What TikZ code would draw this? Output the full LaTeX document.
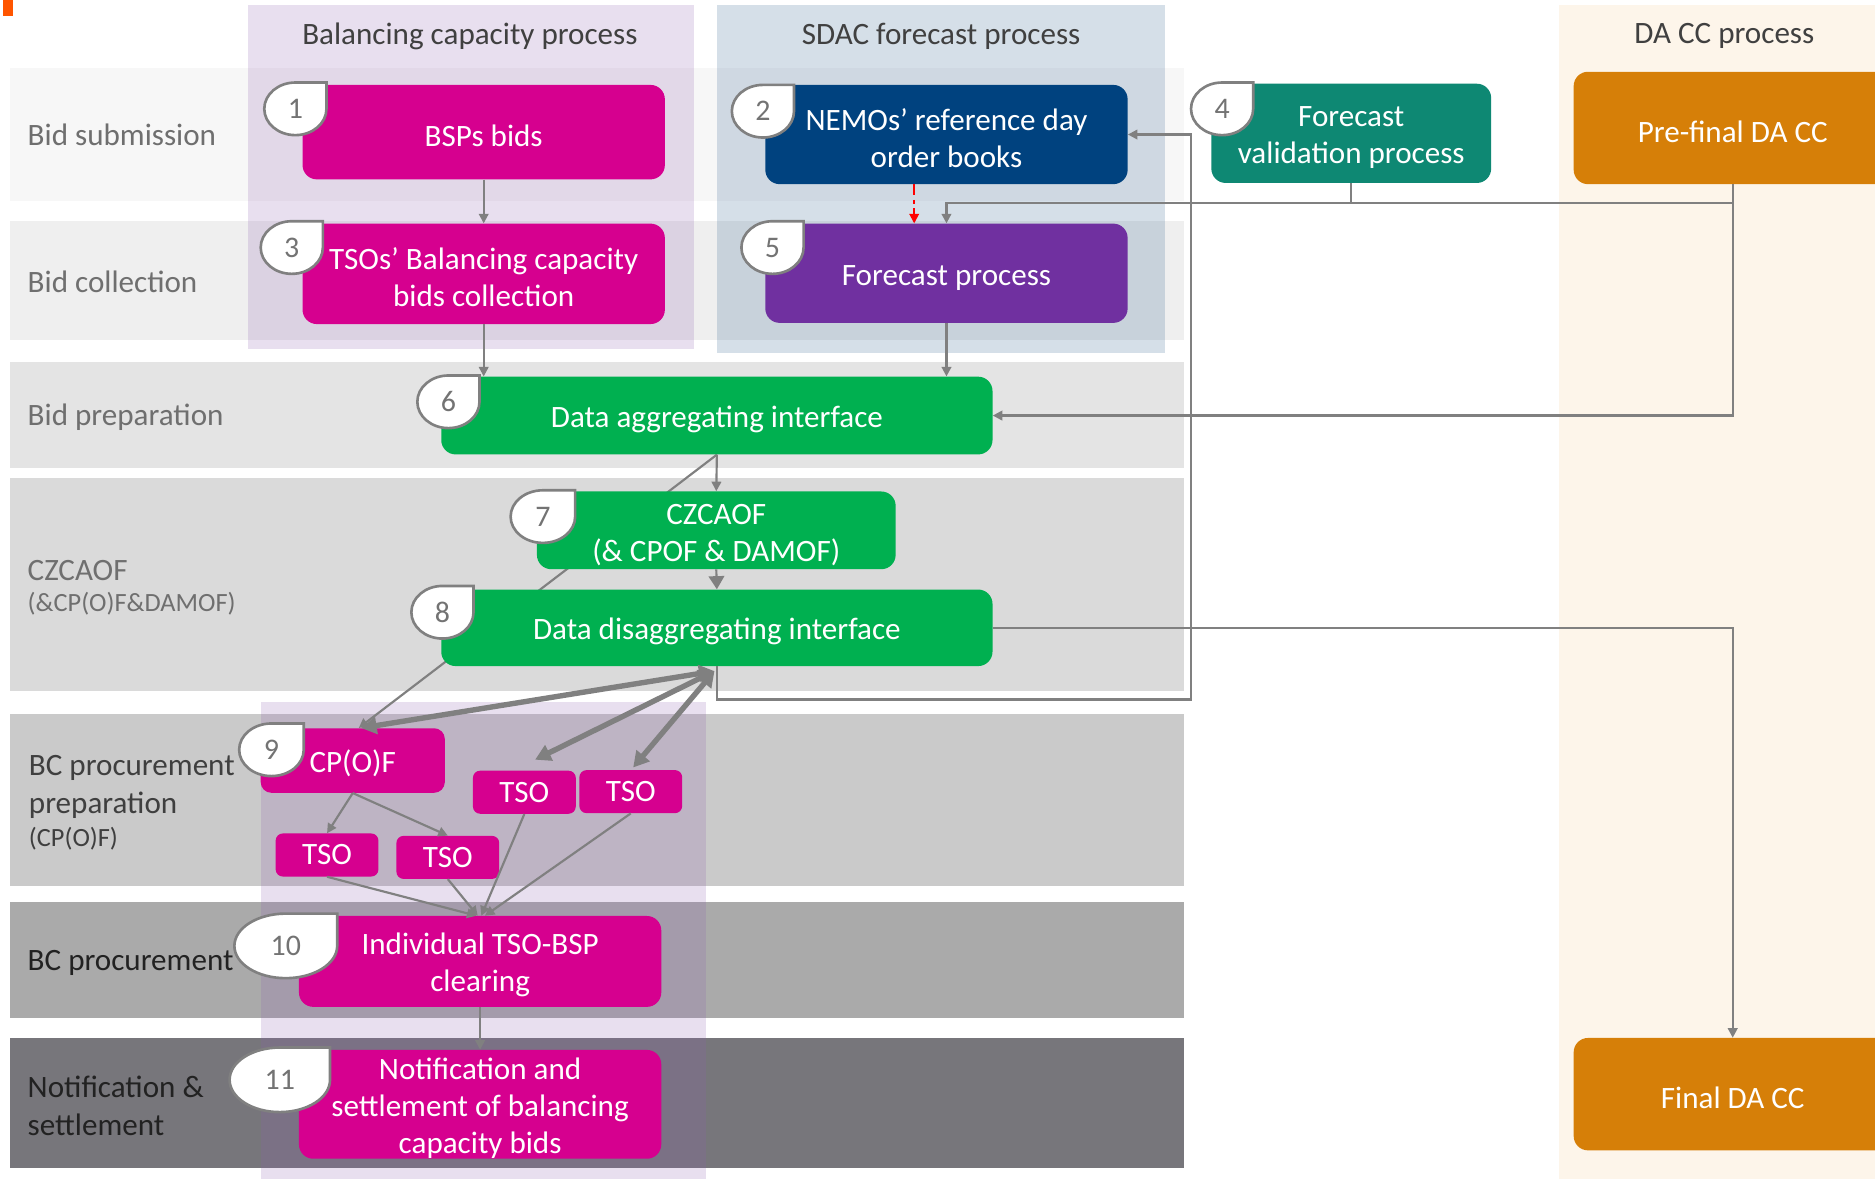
\documentclass[tikz,border=0pt]{standalone}
\usepackage{fontspec}
\setmainfont{Carlito}
\usetikzlibrary{arrows.meta,calc}
\definecolor{mag}{HTML}{D6008F}
\definecolor{nblue}{HTML}{00427F}
\definecolor{purp}{HTML}{7030A0}
\definecolor{tealc}{HTML}{0E8873}
\definecolor{grn}{HTML}{00B050}
\definecolor{orng}{HTML}{D67F08}
\definecolor{conngray}{HTML}{808080}
\definecolor{hdr}{HTML}{404040}
\definecolor{lblA}{HTML}{6F6F6F}
\definecolor{lblB}{HTML}{3F3F3F}
\definecolor{lblC}{HTML}{222222}
\definecolor{colP}{HTML}{8F5FB0}
\definecolor{colB}{HTML}{2F5F8F}
\definecolor{colO}{HTML}{FDF5EA}
\definecolor{bandA}{HTML}{F7F7F7}
\definecolor{bandB}{HTML}{EFEFEF}
\definecolor{bandC}{HTML}{E4E4E4}
\definecolor{bandD}{HTML}{DADADA}
\definecolor{bandE}{HTML}{CACACA}
\definecolor{bandF}{HTML}{AAAAAA}
\definecolor{bandG}{HTML}{77767B}
\definecolor{badgenum}{HTML}{737373}
\definecolor{topmark}{HTML}{FF5500}
\pgfdeclarelayer{back}
\pgfdeclarelayer{mid}
\pgfsetlayers{back,mid,main}
\tikzset{
  boxbase/.style={rounded corners=12pt, inner sep=0pt, align=center, text=white,
    font=\fontsize{26}{31}\selectfont, execute at begin node={\rule{0pt}{24pt}}},
  twolines/.style={execute at begin node={\rule{0pt}{55pt}}},
  threelines/.style={execute at begin node={\rule{0pt}{86pt}}},
  tsobox/.style={fill=mag, rounded corners=6pt, inner sep=0pt, text=white,
    minimum width=86pt, minimum height=36pt, font=\fontsize{26}{31}\selectfont},
  hdrtext/.style={text=hdr, font=\fontsize{26}{31}\selectfont},
  lanetext/.style={anchor=west, inner sep=0pt, align=left, font=\fontsize{26}{32}\selectfont},
  lanesmall/.style={anchor=west, inner sep=0pt, font=\fontsize{22}{26}\selectfont},
  badgeline/.style={draw=conngray, line width=2.2pt, fill=white},
  badgetext/.style={text=badgenum, inner sep=0pt, font=\fontsize{25}{28}\selectfont},
  conn/.style={draw=conngray, line width=1.8pt},
  arr/.style={conn, -{Triangle[width=8pt,length=8pt]}},
  bigarr/.style={conn, -{Triangle[width=13pt,length=11pt]}},
  thickarr/.style={draw=conngray, line width=4.5pt,
    {Triangle[width=14pt,length=13pt]}-{Triangle[width=14pt,length=13pt]}},
}
\newcommand{\badge}[6]{%
  \draw[badgeline] ({#2+#4},#3) arc[start angle=0,end angle=270,x radius=#4,y radius=#5]
     -- ({#2+#4},{#3-#5}) -- cycle;
  \node[badgetext] (#1) at (#2,#3) {#6};
}
\begin{document}
\begin{tikzpicture}[x=1pt,y=-1pt]
\clip (0,0) rectangle (1568,986);

% ---------- background: lanes and columns
\begin{pgfonlayer}{back}
\fill[white] (0,0) rectangle (1568,986);
\fill[topmark] (2.5,0) rectangle (11,13);
\fill[bandA] (8,57) rectangle (990,168);
\fill[bandB] (8,185) rectangle (990,284);
\fill[bandC] (8,303) rectangle (990,391);
\fill[bandD] (8,400) rectangle (990,578);
\fill[bandE] (8,597) rectangle (990,741);
\fill[bandF] (8,754) rectangle (990,851);
\fill[bandG] (8,868) rectangle (990,977);
\fill[colP, opacity=0.2] (207,4) rectangle (580,292);
\fill[colP, opacity=0.2] (218,587) rectangle (590,986);
\fill[colB, opacity=0.2] (600,4) rectangle (974,295);
\fill[colO] (1304,4) rectangle (1568,986);
\end{pgfonlayer}

% ---------- column headers
\node[hdrtext] (h1) at (393,30) {Balancing capacity process};
\node[hdrtext] (h2) at (787,30) {SDAC forecast process};
\node[hdrtext] (h3) at (1442,30) {DA CC process};

% ---------- lane labels
\node[lanetext, text=lblA] (l1) at (23,113) {Bid submission};
\node[lanetext, text=lblA] (l2) at (23,236) {Bid collection};
\node[lanetext, text=lblA] (l3) at (23,349) {Bid preparation};
\node[lanetext, text=lblA] (l4) at (23,477) {CZCAOF};
\node[lanesmall, text=lblA] (l4b) at (23,505) {(\&CP(O)F\&DAMOF)};
\node[lanetext, text=lblB] (l5) at (24,658) {BC procurement\\preparation};
\node[lanesmall, text=lblB] (l5b) at (24,701) {(CP(O)F)};
\node[lanetext, text=lblC] (l6) at (23,805) {BC procurement};
\node[lanetext, text=lblC] (l7) at (23,925) {Notification \&\\settlement};

% ---------- process boxes
\node[boxbase, fill=mag, minimum width=303pt, minimum height=79pt] (n1) at (404.5,110.5) {BSPs bids};
\node[boxbase, twolines, fill=mag, minimum width=303pt, minimum height=84pt] (n3) at (404.5,229) {TSOs’ Balancing capacity\\bids collection};
\node[boxbase, twolines, fill=nblue, minimum width=303pt, minimum height=83pt] (n2) at (791.5,112.5) {NEMOs’ reference day\\order books};
\node[boxbase, fill=purp, minimum width=303pt, minimum height=83pt] (n5) at (791.5,228.5) {Forecast process};
\node[boxbase, twolines, fill=tealc, minimum width=234pt, minimum height=83pt] (n4) at (1130,111.5) {Forecast\\validation process};
\node[boxbase, fill=orng, minimum width=266pt, minimum height=94pt] (pf) at (1449,107) {Pre-final DA CC};
\node[boxbase, fill=orng, minimum width=266pt, minimum height=94pt] (fin) at (1449,915) {Final DA CC};
\node[boxbase, fill=grn, minimum width=461pt, minimum height=65pt] (n6) at (599.5,347.5) {Data aggregating interface};
\node[boxbase, twolines, fill=grn, minimum width=300pt, minimum height=65pt] (n7) at (599,443.5) {CZCAOF\\(\& CPOF \& DAMOF)};
\node[boxbase, fill=grn, minimum width=461pt, minimum height=64pt] (n8) at (599.5,525) {Data disaggregating interface};
\node[boxbase, fill=mag, rounded corners=9pt, minimum width=154pt, minimum height=54pt] (n9) at (295,636) {CP(O)F};
\node[tsobox] (ta) at (438.5,662.5) {TSO};
\node[tsobox] (tb) at (527.5,662) {TSO};
\node[tsobox] (tc) at (273.5,715) {TSO};
\node[tsobox] (td) at (374.5,717) {TSO};
\node[boxbase, twolines, fill=mag, minimum width=303pt, minimum height=76pt] (n10) at (401.5,804) {Individual TSO-BSP\\clearing};
\node[boxbase, threelines, fill=mag, minimum width=303pt, minimum height=91pt] (n11) at (401.5,923.5) {Notification and\\settlement of balancing\\capacity bids};

% ---------- badges
\badge{b1}{247}{91}{26}{22}{1}
\badge{b3}{244}{207}{26}{22}{3}
\badge{b2}{638}{93}{26}{22}{2}
\badge{b5}{646}{207}{26}{22}{5}
\badge{b4}{1022}{91}{26}{22}{4}
\badge{b6}{375}{336}{26}{22}{6}
\badge{b7}{454}{432}{27}{22}{7}
\badge{b8}{370}{512}{26}{22}{8}
\badge{b9}{227}{627}{27}{22}{9}
\badge{b10}{239}{791}{43}{27}{10}
\badge{b11}{234}{903}{42}{27}{11}

% ---------- connectors
\begin{pgfonlayer}{mid}
\draw[arr] (n6.south) -- ([xshift=5pt]n9.north);
\end{pgfonlayer}
\draw[arr] (n1.south) -- (n3.north);
\draw[arr] (n3.south) -- (n3.south |- n6.north);
\draw[arr] (n5.south) -- (n5.south |- n6.north);
\draw[red, line width=1.6pt, dash pattern=on 9pt off 4pt on 3pt off 4pt,
      -{Triangle[width=8pt,length=8pt]}] ([xshift=-27pt]n2.south) -- ([xshift=-27pt]n5.north);
\coordinate (j) at (1130,170);
\draw[arr] (n4.south) -- (j) -| (n5.north);
\draw[conn] (j) -- (pf.south |- j);
\draw[arr] (pf.south) |- (n6.east);
\draw[arr] (n8.east) -| (fin.north);
\coordinate (lp) at (996,585);
\draw[arr] (n8.south) |- (lp) |- (n2.east);
\draw[arr] (n6.south) -- (n7.north);
\draw[bigarr] (n7.south) -- (n8.north);
\coordinate (ti) at ($(n8.south)+(-2,4)$);
\draw[thickarr] (ti) -- ([xshift=7pt]n9.north);
\draw[thickarr] (ti) -- ([xshift=9pt,yshift=9pt]ta.north);
\draw[thickarr] (ti) -- ([xshift=2pt,yshift=2pt]tb.north);
\draw[arr] (n9.south) -- (tc.north);
\draw[arr] (n9.south) -- (td.north);
\draw[arr] (tc.south) -- ([xshift=-3pt]n10.north);
\draw[arr] (td.south) -- ([xshift=-2pt]n10.north);
\draw[arr] (ta.south) -- ([xshift=1pt]n10.north);
\draw[arr] (tb.south) -- ([xshift=4pt]n10.north);
\draw[arr] (n10.south) -- (n11.north);
\end{tikzpicture}
\end{document}
